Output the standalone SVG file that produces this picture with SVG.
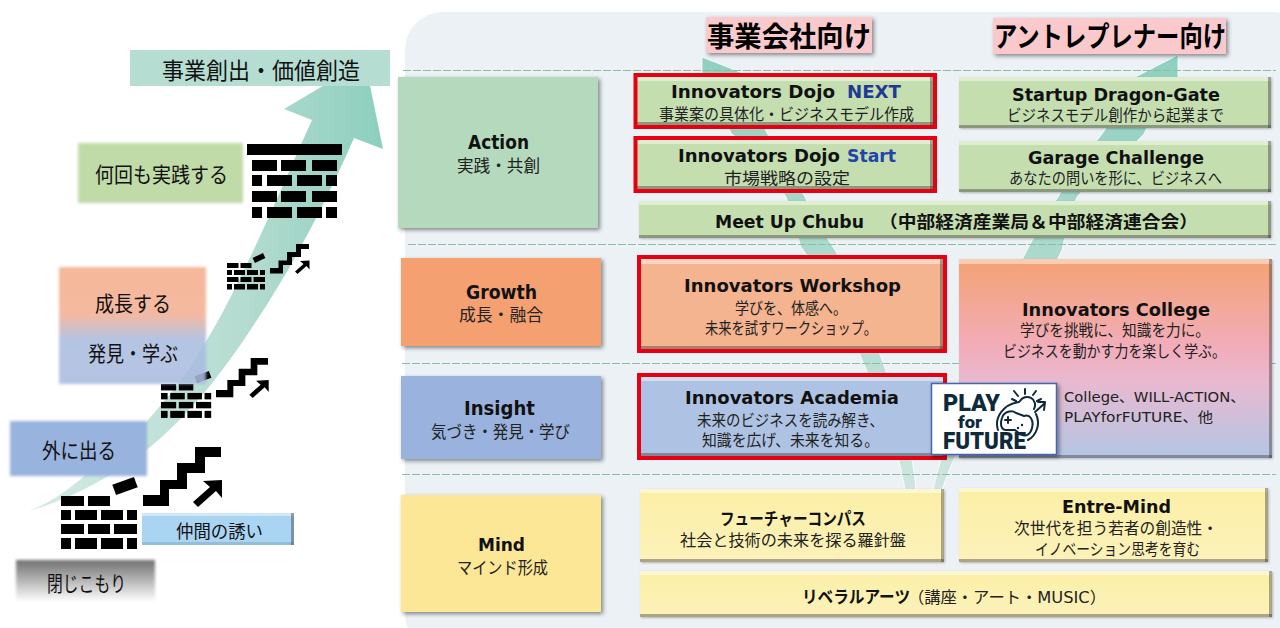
<svg xmlns="http://www.w3.org/2000/svg" width="1280" height="628" viewBox="0 0 1280 628">
<style>
text{font-family:"DejaVu Sans","Noto Sans CJK JP",sans-serif;fill:#111}
.j{font-family:"Noto Sans CJK JP",sans-serif}
.t{font-size:17px;font-weight:700}
.s{font-size:16px;fill:#222}
.n{font-size:17px;fill:#222}
.l{font-size:21px;font-family:"Noto Sans CJK JP",sans-serif}
.h{font-size:28px;font-weight:700;font-family:"Noto Sans CJK JP",sans-serif;fill:#000}
.b{font-family:"Noto Sans CJK JP",sans-serif;font-weight:700;font-size:17px}
.dash{stroke:#8cbf9f;stroke-width:1;stroke-dasharray:8 2;fill:none}
.red{fill:none;stroke:#e60012;stroke-width:4}
.hi{fill:#fff;opacity:.45}
.dk{fill:#333;opacity:.4}
.logo{font-family:"Roboto","Liberation Sans",sans-serif;font-weight:900;fill:#0e2a3a}
.ic{fill:none;stroke:#0e2a3a;stroke-width:2;stroke-linecap:round;stroke-linejoin:round}
</style>
<defs>
<filter id="sh" x="-10%" y="-10%" width="125%" height="130%"><feDropShadow dx="2" dy="2" stdDeviation="2" flood-color="#000" flood-opacity=".45"/></filter>
<filter id="sm" x="-5%" y="-10%" width="110%" height="125%"><feDropShadow dx="1" dy="1" stdDeviation="1" flood-color="#000" flood-opacity=".25"/></filter>
<filter id="soft" x="-5%" y="-10%" width="110%" height="120%"><feGaussianBlur stdDeviation="1.6"/></filter>
<linearGradient id="ga" x1="0" x2="1" y1="0" y2="0"><stop offset="0" stop-color="#d3ebe5"/><stop offset=".6" stop-color="#b5dcd1"/><stop offset="1" stop-color="#8ccfbd"/></linearGradient>
<linearGradient id="gb" x1="0" x2="0" y1="1" y2="0"><stop offset="0" stop-color="#cfe5e0"/><stop offset=".4" stop-color="#b5dcd1"/><stop offset="1" stop-color="#8fd0bf"/></linearGradient>
<linearGradient id="gc" x1="0" x2="0" y1="0" y2="1"><stop offset="0" stop-color="#f4a273"/><stop offset=".45" stop-color="#f1adbb"/><stop offset=".62" stop-color="#e8b9d0"/><stop offset="1" stop-color="#b3c6e4"/></linearGradient>
<linearGradient id="go" x1="0" x2="0" y1="0" y2="1"><stop offset="0" stop-color="#f4ae8c"/><stop offset=".4" stop-color="#f3b093"/><stop offset=".62" stop-color="#aabce0"/><stop offset="1" stop-color="#a9bbdf"/></linearGradient>
<linearGradient id="gg" x1="0" x2="0" y1="0" y2="1"><stop offset="0" stop-color="#707070"/><stop offset="1" stop-color="#fff"/></linearGradient>
<linearGradient id="gy" x1="0" x2="0" y1="0" y2="1"><stop offset="0" stop-color="#fbefa6"/><stop offset="1" stop-color="#fcf2ba"/></linearGradient>
<g id="wall" fill="#000">
<rect x="0" y="0" width="23" height="10"/><rect x="27" y="0" width="22" height="10"/>
<rect x="0" y="14" width="10" height="10"/><rect x="14" y="14" width="22" height="10"/><rect x="40" y="14" width="22" height="10"/><rect x="66" y="14" width="10" height="10"/>
<rect x="0" y="28" width="23" height="10"/><rect x="27" y="28" width="22" height="10"/><rect x="53" y="28" width="23" height="10"/>
<rect x="0" y="42" width="10" height="11"/><rect x="14" y="42" width="22" height="11"/><rect x="40" y="42" width="22" height="11"/><rect x="66" y="42" width="10" height="11"/>
</g>
<g id="stairs" fill="#000">
<path d="M0,48 H17 V33 H34 V16 H52 V0 H78 V10 H62 V26 H44 V42 H26 V59 H0 Z"/>
<path d="M60,34 L79,33 L79,51 L73,44 L55,60 L50,55 L67,40 Z"/>
</g>
<rect id="brick" x="-11.500" y="-5.500" width="23" height="11" fill="#000"/>
</defs>

<g id="left-arrow">
<path fill="url(#ga)" d="M29,511 C50,503 68,490 83,477 C105,458 130,440 148,420 C165,400 180,383 193,363 C240,290 280,190 312,120 L284,109 L365,61 L383,149 L354,138 C320,215 290,270 257,320 C215,385 170,440 110,475 C85,490 60,502 29,511 Z"/>
</g>
<g id="value"><rect x="130" y="50" width="260" height="36" fill="#b5ddd2"/><text x="162" y="79" class="l" style="font-size:23px" textLength="198" lengthAdjust="spacingAndGlyphs">事業創出・価値創造</text></g>
<g id="practice"><rect x="78" y="143" width="165" height="60" fill="#c0dba8" filter="url(#soft)"/><text x="95" y="182" class="l" textLength="133" lengthAdjust="spacingAndGlyphs">何回も実践する</text></g>
<g id="wall-top" fill="#000">
<rect x="247" y="144" width="95" height="11"/>
<rect x="252" y="160" width="25" height="11"/><rect x="281" y="160" width="25" height="11"/><rect x="312" y="160" width="25" height="11"/>
<rect x="252" y="175" width="10" height="11"/><rect x="267" y="175" width="25" height="11"/><rect x="297" y="175" width="25" height="11"/><rect x="326" y="175" width="11" height="11"/>
<rect x="252" y="191" width="25" height="11"/><rect x="281" y="191" width="25" height="11"/><rect x="312" y="191" width="25" height="11"/>
<rect x="252" y="207" width="10" height="11"/><rect x="267" y="207" width="25" height="11"/><rect x="297" y="207" width="25" height="11"/><rect x="326" y="207" width="11" height="11"/>
</g>
<g id="climb-1">
<use href="#wall" transform="translate(227,263) scale(.5)"/>
<use href="#brick" transform="translate(259,258) rotate(-25) scale(.5)"/>
<use href="#stairs" transform="translate(270,244) scale(.5)"/>
</g>
<g id="climb-2">
<use href="#wall" transform="translate(161,384) scale(.66,.64)"/>
<use href="#brick" transform="translate(203,377) rotate(-20) scale(.66)"/>
<use href="#stairs" transform="translate(216,358) scale(.667)"/>
</g>
<g id="climb-3">
<use href="#wall" transform="translate(61,496)"/>
<use href="#brick" transform="translate(125,486) rotate(-20)"/>
<use href="#stairs" transform="translate(143,447)"/>
</g>
<g id="grow-learn"><rect x="59" y="267" width="147" height="117" fill="url(#go)" opacity=".88" filter="url(#soft)"/><text x="95" y="311" class="l" textLength="76" lengthAdjust="spacingAndGlyphs">成長する</text><text x="88" y="361" class="l" textLength="90" lengthAdjust="spacingAndGlyphs">発見・学ぶ</text></g>
<g id="go-out"><rect x="10" y="421" width="137" height="55" fill="#98b3dd" filter="url(#soft)"/><text x="42" y="458" class="l" textLength="74" lengthAdjust="spacingAndGlyphs">外に出る</text></g>
<g id="shut-in"><rect x="16" y="560" width="139" height="42" fill="url(#gg)" filter="url(#soft)"/><text x="47" y="591" class="l" textLength="79" lengthAdjust="spacingAndGlyphs">閉じこもり</text></g>
<g id="invite"><rect x="142" y="513" width="152" height="32" fill="#a9d4f2"/><rect x="142" y="513" width="152" height="3" class="hi"/><rect x="291" y="513" width="3" height="32" class="dk"/><rect x="142" y="542" width="152" height="3" class="dk" style="opacity:.15"/><text x="176" y="538" class="j" style="font-size:18px" textLength="87" lengthAdjust="spacingAndGlyphs">仲間の誘い</text></g>

<rect id="panel" x="405" y="12" width="905" height="640" rx="38" fill="#ecf1f6"/>
<g id="connectors">
<path fill="url(#gb)" stroke="#fff" stroke-width=".8" d="M916,490 L905,490 C902,470 895,445 888,425 C880,400 870,378 859,353 C845,315 825,280 801,247 L786,197 C770,170 750,150 731,133 L714,100 L702,95 L702,57 L760,80 L745,90 L767,133 C785,160 795,180 805,197 C815,220 825,235 835,250 C855,290 870,325 883,363 C895,395 912,440 916,490 Z"/>
<path fill="url(#gb)" stroke="#fff" stroke-width=".8" d="M933,490 C940,460 950,425 975,370 C990,335 1005,295 1023,258 C1035,235 1045,215 1058,197 C1070,175 1085,155 1102,134 L1125,100 L1110,90 L1178,55 L1178,90 L1165,85 L1144,134 C1125,155 1095,175 1077,197 C1070,215 1065,235 1062,250 C1030,320 965,420 942,490 Z"/>
</g>
<g id="dividers">
<path class="dash" d="M403,70.500 H1276"/><path class="dash" d="M408,244.500 H1276"/><path class="dash" d="M402,363.500 H1276"/><path class="dash" d="M402,474.500 H1276"/>
</g>

<g id="head-biz"><rect x="706" y="17" width="166" height="36" fill="#f9c9cb" filter="url(#sh)"/><text x="707" y="47" class="h" textLength="164" lengthAdjust="spacingAndGlyphs">事業会社向け</text></g>
<g id="head-ent"><rect x="993" y="18" width="233" height="36" fill="#f9c9cb" filter="url(#sh)"/><text x="994" y="47" class="h" textLength="232" lengthAdjust="spacingAndGlyphs">アントレプレナー向け</text></g>

<g id="action"><rect x="398" y="77" width="200" height="151" fill="#b4d9bc" filter="url(#sh)"/><text x="468" y="149" class="t" style="font-size:19px" textLength="61" lengthAdjust="spacingAndGlyphs">Action</text><text x="457" y="172" class="n" textLength="83" lengthAdjust="spacingAndGlyphs">実践・共創</text></g>
<g id="growth"><rect x="401" y="258" width="200" height="88" fill="#f4a071" filter="url(#sh)"/><text x="466" y="299" class="t" style="font-size:19px" textLength="71" lengthAdjust="spacingAndGlyphs">Growth</text><text x="459" y="321" class="n" textLength="84" lengthAdjust="spacingAndGlyphs">成長・融合</text></g>
<g id="insight"><rect x="401" y="376" width="200" height="83" fill="#9ab3de" filter="url(#sh)"/><text x="464" y="415" class="t" style="font-size:19px" textLength="71" lengthAdjust="spacingAndGlyphs">Insight</text><text x="431" y="438" class="n" textLength="139" lengthAdjust="spacingAndGlyphs">気づき・発見・学び</text></g>
<g id="mind"><rect x="401" y="495" width="200" height="117" fill="#fbe796" filter="url(#sh)"/><text x="478" y="551" class="t" textLength="47" lengthAdjust="spacingAndGlyphs">Mind</text><text x="457" y="574" class="n" textLength="91" lengthAdjust="spacingAndGlyphs">マインド形成</text></g>

<g id="dojo-next"><rect x="637" y="77" width="296" height="48" fill="#c5deb0"/><rect x="637" y="77" width="296" height="4" class="hi"/><rect x="930" y="77" width="3" height="48" class="dk"/><rect x="637" y="122" width="296" height="3" class="dk"/><rect x="635.500" y="75" width="299.500" height="52" class="red"/><text x="671" y="98" class="t" textLength="164" lengthAdjust="spacingAndGlyphs">Innovators Dojo</text><text x="847" y="98" class="t" style="fill:#1f3a93" textLength="54" lengthAdjust="spacingAndGlyphs">NEXT</text><text x="659" y="120" class="s" textLength="255" lengthAdjust="spacingAndGlyphs">事業案の具体化・ビジネスモデル作成</text></g>
<g id="dojo-start"><rect x="637" y="140" width="296" height="49" fill="#c5deb0"/><rect x="637" y="140" width="296" height="4" class="hi"/><rect x="930" y="140" width="3" height="49" class="dk"/><rect x="637" y="186" width="296" height="3" class="dk"/><rect x="635.500" y="138" width="299.500" height="53" class="red"/><text x="678" y="162" class="t" textLength="162" lengthAdjust="spacingAndGlyphs">Innovators Dojo</text><text x="847" y="162" class="t" style="fill:#2244aa" textLength="49" lengthAdjust="spacingAndGlyphs">Start</text><text x="724" y="184" class="s" textLength="126" lengthAdjust="spacingAndGlyphs">市場戦略の設定</text></g>
<g id="startup"><rect x="959" y="77" width="312" height="51" fill="#c5deb0" filter="url(#sm)"/><rect x="959" y="77" width="312" height="4" class="hi"/><rect x="1268" y="77" width="3" height="51" class="dk"/><rect x="959" y="125" width="312" height="3" class="dk"/><text x="1012" y="101" class="t" textLength="208" lengthAdjust="spacingAndGlyphs">Startup Dragon-Gate</text><text x="1007" y="121" class="s" textLength="217" lengthAdjust="spacingAndGlyphs">ビジネスモデル創作から起業まで</text></g>
<g id="garage"><rect x="959" y="141" width="312" height="51" fill="#c5deb0" filter="url(#sm)"/><rect x="959" y="141" width="312" height="4" class="hi"/><rect x="1268" y="141" width="3" height="51" class="dk"/><rect x="959" y="189" width="312" height="3" class="dk"/><text x="1028" y="164" class="t" textLength="176" lengthAdjust="spacingAndGlyphs">Garage Challenge</text><text x="1009" y="184" class="s" textLength="213" lengthAdjust="spacingAndGlyphs">あなたの問いを形に、ビジネスへ</text></g>
<g id="meetup"><rect x="639" y="201" width="632" height="37" fill="#c5deb0" filter="url(#sm)"/><rect x="639" y="201" width="632" height="4" class="hi"/><rect x="1268" y="201" width="3" height="37" class="dk"/><rect x="639" y="235" width="632" height="3" class="dk"/><text x="715" y="228" class="t" textLength="149" lengthAdjust="spacingAndGlyphs">Meet Up Chubu</text><text x="879" y="228" class="b" textLength="319" lengthAdjust="spacingAndGlyphs">&#xFF08;中部経済産業局&#xFF06;中部経済連合会&#xFF09;</text></g>

<g id="workshop"><rect x="641" y="259" width="302" height="90" fill="#f4b48f"/><rect x="641" y="259" width="302" height="5" class="hi"/><rect x="940" y="259" width="3" height="90" class="dk"/><rect x="641" y="346" width="302" height="3" class="dk"/><rect x="639" y="257" width="306" height="94" class="red"/><text x="684" y="292" class="t" textLength="217" lengthAdjust="spacingAndGlyphs">Innovators Workshop</text><text x="735" y="314" class="s" textLength="112" lengthAdjust="spacingAndGlyphs">学びを、体感へ。</text><text x="705" y="334" class="s" textLength="172" lengthAdjust="spacingAndGlyphs">未来を試すワークショップ。</text></g>
<g id="academia"><rect x="641" y="377" width="302" height="79" fill="#aec3e4"/><rect x="641" y="377" width="302" height="4" class="hi"/><rect x="641" y="453" width="302" height="3" class="dk"/><rect x="639" y="375" width="306" height="83" class="red"/><text x="685" y="404" class="t" textLength="214" lengthAdjust="spacingAndGlyphs">Innovators Academia</text><text x="697" y="426" class="s" textLength="187" lengthAdjust="spacingAndGlyphs">未来のビジネスを読み解き、</text><text x="702" y="446" class="s" textLength="177" lengthAdjust="spacingAndGlyphs">知識を広げ、未来を知る。</text></g>
<g id="college"><rect x="959" y="259" width="313" height="199" fill="url(#gc)" filter="url(#sm)"/><rect x="959" y="259" width="313" height="5" class="hi"/><rect x="1269" y="259" width="3" height="199" class="dk"/><rect x="959" y="455" width="313" height="3" class="dk"/><text x="1022" y="316" class="t" textLength="188" lengthAdjust="spacingAndGlyphs">Innovators College</text><text x="1020" y="336" class="s" textLength="190" lengthAdjust="spacingAndGlyphs">学びを挑戦に、知識を力に。</text><text x="1003" y="357" class="s" textLength="223" lengthAdjust="spacingAndGlyphs">ビジネスを動かす力を楽しく学ぶ。</text><text x="1064" y="402" class="s" style="font-size:14px" textLength="181" lengthAdjust="spacingAndGlyphs">College、WILL-ACTION、</text><text x="1064" y="422" class="s" style="font-size:14px" textLength="149" lengthAdjust="spacingAndGlyphs">PLAYforFUTURE、他</text></g>
<g id="play-logo"><rect x="931.500" y="383.500" width="125" height="71" fill="#fff" stroke="#4466aa" stroke-width="1.500" filter="url(#sh)"/>
<text x="943" y="411" class="logo" style="font-size:23px" textLength="57" lengthAdjust="spacingAndGlyphs">PLAY</text><text x="958" y="428" class="logo" style="font-size:17px" textLength="24" lengthAdjust="spacingAndGlyphs">for</text><text x="943" y="449" class="logo" style="font-size:23px" textLength="83" lengthAdjust="spacingAndGlyphs">FUTURE</text>
<path class="ic" d="M1002,418 C1004,411 1012,410 1016,413 L1024,416 C1030,414 1034,420 1032,428 C1030,436 1024,437 1020,434 L1015,430 L1006,430 C1001,430 1000,424 1002,418 Z"/>
<path class="ic" d="M1005,420 L1011,420 M1008,417 L1008,423"/><circle cx="1018" cy="428" r="1.200" fill="#0e2a3a"/><circle cx="1022" cy="425" r="1.200" fill="#0e2a3a"/>
<path class="ic" d="M998,430 C994,418 1003,404 1019,402 M1036,414 C1041,424 1036,436 1028,440"/>
<path class="ic" d="M1020,401 A7,7 0 1 1 1034,409 M1025,389 L1025,394 M1036,391 L1033,395 M1014,391 L1018,396 M1041,399 L1037,401 M1012,399 L1016,401"/>
<path class="ic" d="M1035,412 L1045,403 M1038,402 L1045,402 L1044,410"/></g>

<g id="compass"><rect x="640" y="489" width="304" height="73" fill="url(#gy)" filter="url(#sm)"/><rect x="640" y="489" width="304" height="4" class="hi"/><rect x="941" y="489" width="3" height="73" class="dk"/><rect x="640" y="559" width="304" height="3" class="dk"/><text x="720" y="525" class="b" textLength="146" lengthAdjust="spacingAndGlyphs">フューチャーコンパス</text><text x="680" y="546" class="s" textLength="226" lengthAdjust="spacingAndGlyphs">社会と技術の未来を探る羅針盤</text></g>
<g id="entre"><rect x="959" y="488" width="309" height="74" fill="url(#gy)" filter="url(#sm)"/><rect x="959" y="488" width="309" height="4" class="hi"/><rect x="1265" y="488" width="3" height="74" class="dk"/><rect x="959" y="559" width="309" height="3" class="dk"/><text x="1062" y="513" class="t" textLength="109" lengthAdjust="spacingAndGlyphs">Entre-Mind</text><text x="1014" y="534" class="s" textLength="204" lengthAdjust="spacingAndGlyphs">次世代を担う若者の創造性・</text><text x="1035" y="555" class="s" textLength="165" lengthAdjust="spacingAndGlyphs">イノベーション思考を育む</text></g>
<g id="liberal"><rect x="640" y="571" width="632" height="46" fill="url(#gy)" filter="url(#sm)"/><rect x="640" y="571" width="632" height="4" class="hi"/><rect x="1269" y="571" width="3" height="46" class="dk"/><rect x="640" y="614" width="632" height="3" class="dk"/><text x="802" y="603" class="b" textLength="108" lengthAdjust="spacingAndGlyphs">リベラルアーツ</text><text x="908" y="603" class="s" textLength="198" lengthAdjust="spacingAndGlyphs">&#xFF08;講座・アート・MUSIC&#xFF09;</text></g>
</svg>
